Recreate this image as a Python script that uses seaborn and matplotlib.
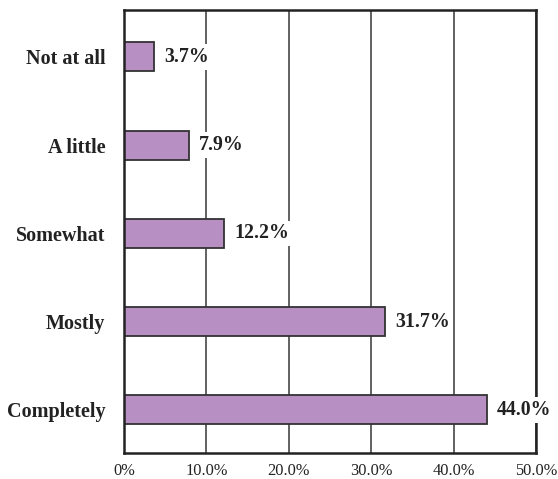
import matplotlib
matplotlib.use("Agg")
import matplotlib.pyplot as plt
import seaborn as sns
import pandas as pd
from matplotlib.ticker import FuncFormatter

categories = ["Not at all", "A little", "Somewhat", "Mostly", "Completely"]
percentages = [3.7, 7.9, 12.2, 31.7, 44.0]
x_ticks = [0, 10, 20, 30, 40, 50]

df = pd.DataFrame({"category": categories, "pct": percentages})

sns.set_style("white")
plt.rcParams["font.family"] = ["Liberation Serif", "DejaVu Serif"]

fig = plt.figure(figsize=(5.58, 4.79), dpi=100)
ax = fig.add_axes([0.222, 0.054, 0.739, 0.925])

ax.grid(axis="x", color="#555555", linewidth=1.3, zorder=0)
ax.set_axisbelow(True)

sns.barplot(data=df, x="pct", y="category", order=categories, orient="h",
            color="#b88fc3", saturation=1, width=0.33,
            edgecolor="#333333", linewidth=1.3, ax=ax, zorder=2)

for i, v in enumerate(percentages):
    ax.text(v + 1.2, i, f"{v:.1f}%", va="center", ha="left",
            fontsize=14.3, fontweight="bold", color="#222222", zorder=3,
            bbox=dict(facecolor="white", edgecolor="none", pad=2))

ax.set_xlim(0, 50)
ax.set_ylim(4.49, -0.53)
ax.set_xticks(x_ticks)
ax.xaxis.set_major_formatter(FuncFormatter(lambda v, p: "0%" if v == 0 else f"{v:.1f}%"))
ax.set_xlabel("")
ax.set_ylabel("")
ax.tick_params(axis="x", length=0, pad=7, labelsize=11.8, labelcolor="#222222")
ax.tick_params(axis="y", length=0, pad=13.5, labelsize=14.5, labelcolor="#222222")
for lab in ax.get_yticklabels():
    lab.set_fontweight("bold")

for s in ax.spines.values():
    s.set_visible(True)
    s.set_color("#222222")
    s.set_linewidth(1.8)

fig.savefig("out.png", dpi=100)
